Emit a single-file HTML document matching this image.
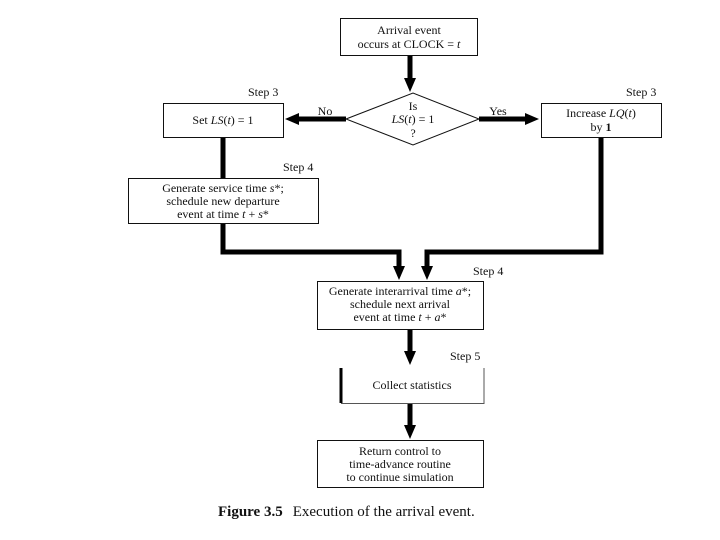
<!DOCTYPE html>
<html><head><meta charset="utf-8"><style>
html,body{margin:0;padding:0;background:#fff;}
svg{display:block;}
text{font-family:"Liberation Serif",serif;fill:#111;}
</style></head><body>
<svg width="720" height="540" viewBox="0 0 720 540" xmlns="http://www.w3.org/2000/svg">
<defs>
<marker id="a" markerWidth="14" markerHeight="12" refX="2" refY="6" orient="auto" markerUnits="userSpaceOnUse">
<path d="M0,0 L14,6 L0,12 Z" fill="#000"/></marker>
</defs>
<g fill="none" stroke="#111" stroke-width="1">
<rect x="340.5" y="18.5" width="137" height="37"/>
<polygon points="346,119 413,93 479,119 413,145"/>
<rect x="163.5" y="103.5" width="120" height="34"/>
<rect x="541.5" y="103.5" width="120" height="34"/>
<rect x="128.5" y="178.5" width="190" height="45"/>
<rect x="317.5" y="281.5" width="166" height="48"/>
<rect x="317.5" y="440.5" width="166" height="47"/>
<path d="M341.5,368 V403.5 H484 V368" stroke="#555"/>
</g>
<g fill="none" stroke="#000" stroke-width="5">
<line x1="341" y1="368" x2="341" y2="403" stroke-width="3"/>
<line x1="410" y1="56" x2="410" y2="80" marker-end="url(#a)"/>
<line x1="346" y1="119" x2="297" y2="119" marker-end="url(#a)"/>
<line x1="479" y1="119" x2="527" y2="119" marker-end="url(#a)"/>
<line x1="223" y1="138" x2="223" y2="178"/>
<polyline points="223,224 223,252 399,252 399,268" marker-end="url(#a)"/>
<polyline points="601,138 601,252 427,252 427,268" marker-end="url(#a)"/>
<line x1="410" y1="330" x2="410" y2="353" marker-end="url(#a)"/>
<line x1="410" y1="404" x2="410" y2="427" marker-end="url(#a)"/>
</g>
<g font-size="12" text-anchor="middle">
<text x="409" y="34">Arrival event</text>
<text x="409" y="48">occurs at CLOCK = <tspan font-style="italic">t</tspan></text>
<text x="413" y="110">Is</text>
<text x="413" y="123"><tspan font-style="italic">LS</tspan>(<tspan font-style="italic">t</tspan>) = 1</text>
<text x="413" y="137">?</text>
<text x="223" y="124"><tspan>Set </tspan><tspan font-style="italic">LS</tspan>(<tspan font-style="italic">t</tspan>) = 1</text>
<text x="601" y="117">Increase <tspan font-style="italic">LQ</tspan>(<tspan font-style="italic">t</tspan>)</text>
<text x="601" y="131">by <tspan font-weight="bold">1</tspan></text>
<text x="223" y="192">Generate service time <tspan font-style="italic">s</tspan>*;</text>
<text x="223" y="205">schedule new departure</text>
<text x="223" y="218">event at time <tspan font-style="italic">t</tspan> + <tspan font-style="italic">s</tspan>*</text>
<text x="400" y="295">Generate interarrival time <tspan font-style="italic">a</tspan>*;</text>
<text x="400" y="308">schedule next arrival</text>
<text x="400" y="321">event at time <tspan font-style="italic">t</tspan> + <tspan font-style="italic">a</tspan>*</text>
<text x="412" y="389">Collect statistics</text>
<text x="400" y="455">Return control to</text>
<text x="400" y="468">time-advance routine</text>
<text x="400" y="481">to continue simulation</text>
<text x="325" y="115">No</text>
<text x="498" y="115">Yes</text>
</g>
<g font-size="12">
<text x="248" y="96">Step 3</text>
<text x="626" y="96">Step 3</text>
<text x="283" y="171">Step 4</text>
<text x="473" y="275">Step 4</text>
<text x="450" y="360">Step 5</text>
</g>
<text x="218" y="516" font-size="15"><tspan font-weight="bold">Figure 3.5</tspan><tspan dx="10">Execution of the arrival event.</tspan></text>
</svg>
</body></html>
